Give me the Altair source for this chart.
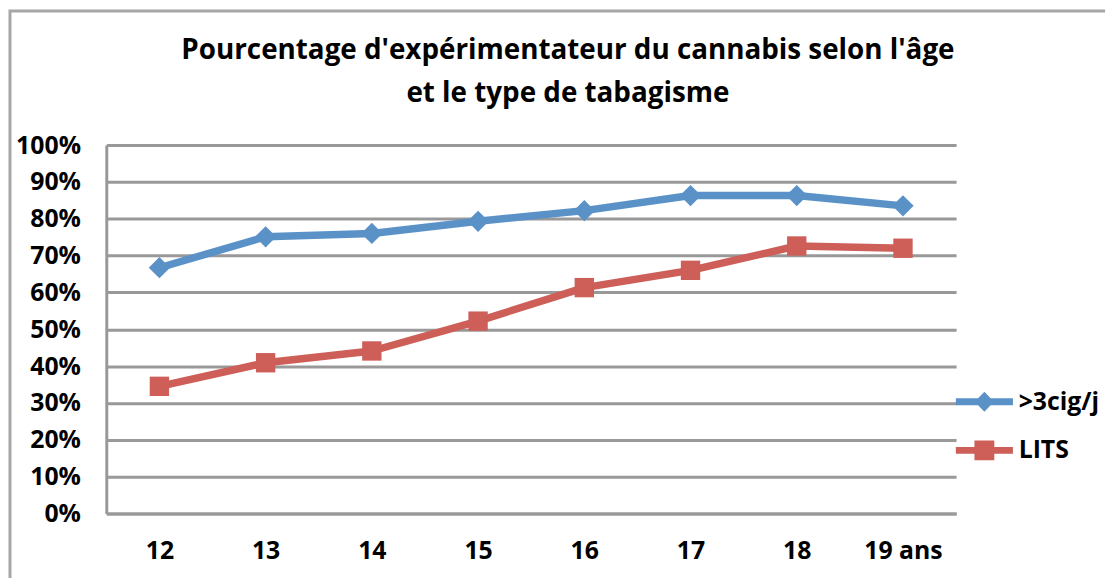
import altair as alt
import pandas as pd

ages = ["12", "13", "14", "15", "16", "17", "18", "19 ans"]
fumeurs = [66.7, 75.1, 76.0, 79.3, 82.2, 86.3, 86.3, 83.5]
lits = [34.5, 40.9, 44.1, 52.2, 61.3, 66.0, 72.6, 72.0]
series = [">3cig/j", "LITS"]
colors = ["#5A92C8", "#CD5E58"]
y_ticks = [0, 10, 20, 30, 40, 50, 60, 70, 80, 90, 100]
title_lines = ["Pourcentage d'expérimentateur du cannabis selon l'âge", "et le type de tabagisme"]

FONT = "Open Sans"

rows = []
for a, v in zip(ages, fumeurs):
    rows.append({"age": a, "pct": v, "serie": series[0]})
for a, v in zip(ages, lits):
    rows.append({"age": a, "pct": v, "serie": series[1]})
df = pd.DataFrame(rows)

# legend symbols: line + marker
legend_paths = [
    "M-2.5,-0.3L-0.55,-0.3L0,-0.87L0.55,-0.3L2.5,-0.3L2.5,0.3L0.55,0.3L0,0.87L-0.55,0.3L-2.5,0.3Z",
    "M-2.5,-0.3L-0.87,-0.3L-0.87,-0.87L0.87,-0.87L0.87,-0.3L2.5,-0.3L2.5,0.3L0.87,0.3L0.87,0.87L-0.87,0.87L-0.87,0.3L-2.5,0.3Z",
]

x_enc = alt.X("age:N", sort=ages, title=None,
              scale=alt.Scale(type="point", padding=0.5, domain=ages),
              axis=alt.Axis(labelAngle=0, grid=False, ticks=False, domain=True,
                            domainColor="#999999", domainWidth=3, labelPadding=25,
                            labelFontSize=25))
y_enc = alt.Y("pct:Q", title=None,
              scale=alt.Scale(domain=[0, 100], nice=False, zero=True),
              axis=alt.Axis(values=y_ticks, labelExpr="datum.value + '%'", grid=True,
                            gridColor="#999999", gridWidth=3, ticks=False, domain=True,
                            domainColor="#999999", domainWidth=3, labelPadding=26,
                            labelFontSize=25))

color_scale = alt.Scale(domain=series, range=colors)

base = alt.Chart(df)

lines = base.mark_line(strokeWidth=7.5, strokeJoin="round").encode(
    x=x_enc, y=y_enc,
    color=alt.Color("serie:N", scale=color_scale, legend=None),
    detail="serie:N",
)

points = base.mark_point(filled=True, opacity=1).encode(
    x=x_enc, y=y_enc,
    color=alt.Color("serie:N", scale=color_scale, legend=None),
    shape=alt.Shape("serie:N", scale=alt.Scale(domain=series, range=["diamond", "square"]), legend=None),
    size=alt.Size("serie:N", scale=alt.Scale(domain=series, range=[460, 380]), legend=None),
)

leg_cfg = dict(orient="none", legendX=872, legendY=246, title=None, symbolSize=529,
               symbolStrokeWidth=0, labelFontSize=25, labelFont=FONT, labelFontWeight="bold",
               labelColor="black", labelOffset=22, rowPadding=23, padding=0, symbolOpacity=1)

legend_layer = base.mark_point(filled=True, opacity=1).encode(
    color=alt.Color("serie:N", scale=color_scale, legend=alt.Legend(**leg_cfg)),
    shape=alt.Shape("serie:N", scale=alt.Scale(domain=series, range=legend_paths),
                    legend=alt.Legend(**leg_cfg)),
).transform_filter("false")

frame = alt.Chart(pd.DataFrame({"k": [0]})).mark_rect(
    filled=False, stroke="#A6A6A6", strokeWidth=3, clip=False
).encode(x=alt.value(-97), x2=alt.value(1100), y=alt.value(-135), y2=alt.value(600))

chart = alt.layer(frame, lines, points, legend_layer).resolve_scale(
    color="independent", shape="independent", size="independent"
).properties(
    width=856, height=371,
    padding={"left": 99, "top": 136, "right": 150, "bottom": 63},
    autosize="none",
    title=alt.Title(title_lines, fontSize=28, font=FONT, fontWeight="bold", lineHeight=43,
                    anchor="middle", dx=37, offset=-99, color="black"),
).configure_view(stroke=None).configure_axis(
    labelFont=FONT, labelFontWeight="bold", labelColor="black"
)

chart.save("out.html", embed_options={"renderer": "svg", "actions": False})
